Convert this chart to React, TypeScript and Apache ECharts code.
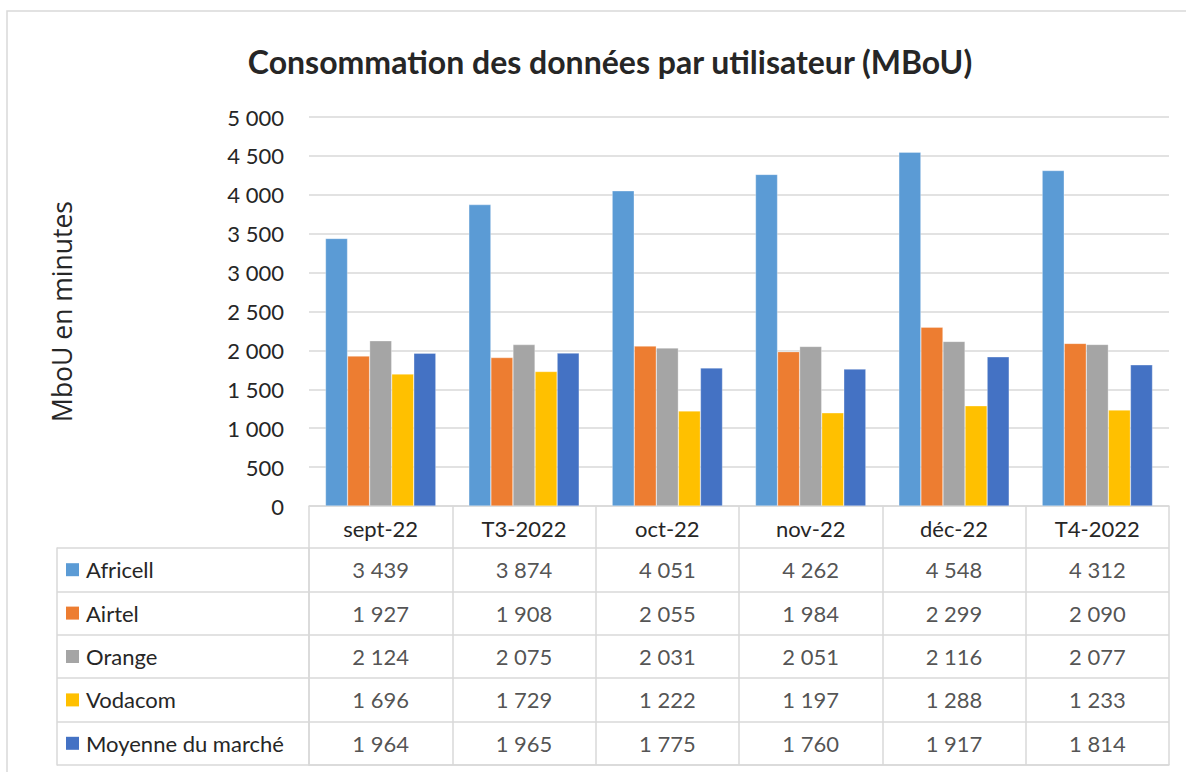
import React, { useEffect, useRef } from "react";
import * as echarts from "echarts";

const categories = ["sept-22", "T3-2022", "oct-22", "nov-22", "déc-22", "T4-2022"];
const seriesNames = ["Africell", "Airtel", "Orange", "Vodacom", "Moyenne du marché"];
const africell = [3439, 3874, 4051, 4262, 4548, 4312];
const airtel = [1927, 1908, 2055, 1984, 2299, 2090];
const orange = [2124, 2075, 2031, 2051, 2116, 2077];
const vodacom = [1696, 1729, 1222, 1197, 1288, 1233];
const moyenne = [1964, 1965, 1775, 1760, 1917, 1814];
const colors = ["#5B9BD5", "#ED7D31", "#A5A5A5", "#FFC000", "#4472C4"];
const yTicks = { min: 0, max: 5000, interval: 500 };

const allValues = [africell, airtel, orange, vodacom, moyenne];
const fmt = (v: number) => String(v).replace(/\B(?=(\d{3})+(?!\d))/g, " ");
const FONT = "Lato";
const TXT = "#262626";
const LINE = "#d9d9d9";

export default function App() {
  const ref = useRef<HTMLDivElement>(null);
  useEffect(() => {
    if (!ref.current) return;
    const chart = echarts.init(ref.current, null, { renderer: "svg" });
    const tableData: any[] = [];
    allValues.forEach((arr, si) => arr.forEach((v, ci) => tableData.push([ci, si, v])));
    const rich: any = { t: { fontFamily: FONT, fontSize: 22, color: TXT, padding: [0, 0, 0, 7] } };
    colors.forEach((c, i) => {
      rich["m" + i] = { width: 13, height: 13, backgroundColor: c };
    });
    chart.setOption({
      animation: false,
      textStyle: { fontFamily: FONT },
      title: {
        text: "Consommation des données par utilisateur (MBoU)",
        left: 605,
        top: 40,
        textAlign: "center",
        textStyle: { fontFamily: FONT, fontSize: 32, fontWeight: "bold", color: TXT },
      },
      graphic: [
        {
          type: "rect",
          shape: { x: 7, y: 11, width: 1300, height: 900 },
          style: { fill: "none", stroke: LINE, lineWidth: 1.5 },
          silent: true,
        },
      ],
      grid: [
        { left: 309, right: 17, top: 117, bottom: 266 },
        { left: 309, right: 17, top: 548, bottom: 7 },
        { left: 57, width: 252, top: 548, bottom: 7 },
      ],
      xAxis: [
        {
          gridIndex: 0,
          type: "category",
          data: categories,
          axisLine: { show: true, lineStyle: { color: LINE, width: 1.5 } },
          axisTick: { show: true, interval: 0, length: 42, lineStyle: { color: LINE, width: 1.5 } },
          axisLabel: { interval: 0, margin: 11, fontFamily: FONT, fontSize: 22, color: TXT },
        },
        {
          gridIndex: 1,
          type: "category",
          data: categories,
          axisLine: { show: true, lineStyle: { color: LINE, width: 1.5 } },
          axisTick: { show: false },
          axisLabel: { show: false },
          splitLine: { show: true, interval: 0, lineStyle: { color: LINE, width: 1.5 } },
        },
        { gridIndex: 2, type: "value", show: false },
      ],
      yAxis: [
        {
          gridIndex: 0,
          type: "value",
          min: yTicks.min,
          max: yTicks.max,
          interval: yTicks.interval,
          name: "MboU en minutes",
          nameLocation: "middle",
          nameRotate: 90,
          nameGap: 234,
          nameTextStyle: { fontFamily: "Open Sans", fontSize: 26.5, color: TXT },
          axisLine: { show: false },
          axisTick: { show: false },
          axisLabel: { margin: 25, fontFamily: FONT, fontSize: 22, color: TXT, formatter: (v: number) => fmt(v) },
          splitLine: { lineStyle: { color: LINE, width: 1.5 } },
        },
        {
          gridIndex: 1,
          type: "category",
          inverse: true,
          data: seriesNames,
          axisLine: { show: true, lineStyle: { color: LINE, width: 1.5 } },
          axisTick: { show: false },
          axisLabel: { show: false },
          splitLine: { show: true, interval: 0, lineStyle: { color: LINE, width: 1.5 } },
        },
        {
          gridIndex: 2,
          type: "category",
          inverse: true,
          data: seriesNames,
          axisLine: { show: true, lineStyle: { color: LINE, width: 1.5 } },
          axisTick: { show: false },
          splitLine: { show: true, interval: 0, lineStyle: { color: LINE, width: 1.5 } },
          axisLabel: {
            inside: true,
            margin: 9,
            interval: 0,
            formatter: (v: string, i: number) => `{m${i}|}{t|${v}}`,
            rich,
          },
        },
      ],
      series: [
        ...seriesNames.map((name, i) => ({
          name,
          type: "bar",
          xAxisIndex: 0,
          yAxisIndex: 0,
          data: allValues[i],
          barGap: "0%",
          barCategoryGap: "23%",
          itemStyle: { color: colors[i], borderColor: "rgba(255,255,255,0.6)", borderWidth: 0.5 },
        })),
        {
          type: "scatter",
          xAxisIndex: 1,
          yAxisIndex: 1,
          data: tableData,
          symbolSize: 1,
          itemStyle: { color: "rgba(0,0,0,0)" },
          label: {
            show: true,
            position: "inside",
            fontFamily: FONT,
            fontSize: 22,
            color: TXT,
            formatter: (p: any) => fmt(p.value[2]),
          },
        },
      ],
    });
    return () => chart.dispose();
  }, []);
  return (
    <div
      ref={ref}
      style={{ position: "fixed", left: 0, top: 0, width: 1186, height: 772, background: "#fff" }}
    />
  );
}
